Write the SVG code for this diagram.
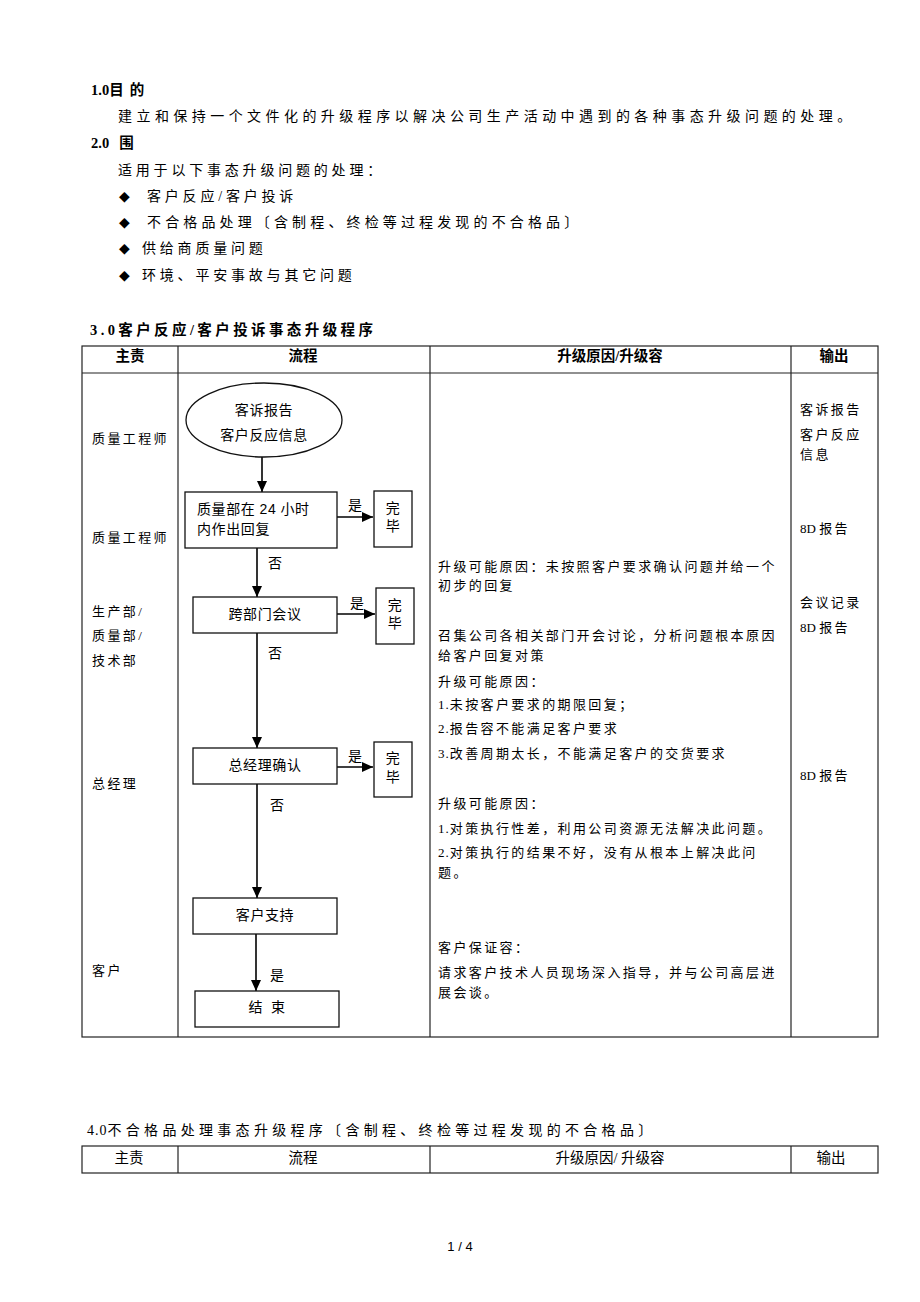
<svg xmlns="http://www.w3.org/2000/svg" width="920" height="1302" viewBox="0 0 920 1302">
<style>
text{font-family:"Liberation Serif","Noto Sans CJK SC",serif;fill:#000}
.h{font-size:14.5px;font-weight:bold}
.p{font-size:14px;letter-spacing:3.8px}
.th{font-size:14.5px;font-weight:bold;text-anchor:middle}
.c{font-size:13px;letter-spacing:2.4px}
.fl{font-size:14px;letter-spacing:0.6px}
.mid{text-anchor:middle}
.tight{letter-spacing:0}
.num{letter-spacing:1px}
.grid{stroke:#222;stroke-width:1.2;fill:none}
.box{fill:#fff;stroke:#111;stroke-width:1.3}
.edge{stroke:#000;stroke-width:1.6;fill:none;marker-end:url(#ah)}
.lbl{font-size:14px}
.dia{font-size:14px;font-family:"DejaVu Sans",sans-serif}
</style>
<defs>
<marker id="ah" markerUnits="userSpaceOnUse" markerWidth="11" markerHeight="10" refX="11" refY="5" orient="auto">
<path d="M0,0 L11,5 L0,10 z" fill="#000"/>
</marker>
</defs>
<rect width="920" height="1302" fill="#fff"/>

<g id="intro">
<text class="h" x="91" y="95">1.0目<tspan dx="6">的</tspan></text>
<text class="p" x="118" y="121" textLength="737" lengthAdjust="spacing">建立和保持一个文件化的升级程序以解决公司生产活动中遇到的各种事态升级问题的处理。</text>
<text class="h" x="91" y="148">2.0<tspan dx="10">围</tspan></text>
<text class="p" x="118" y="175">适用于以下事态升级问题的处理：</text>
<text class="dia" x="119" y="201">◆</text>
<text class="p" x="147" y="201">客户反应/客户投诉</text>
<text class="dia" x="119" y="227">◆</text>
<text class="p" x="147" y="227" textLength="435" lengthAdjust="spacing">不合格品处理〔含制程、终检等过程发现的不合格品〕</text>
<text class="dia" x="119" y="253">◆</text>
<text class="p" x="142" y="253">供给商质量问题</text>
<text class="dia" x="119" y="280">◆</text>
<text class="p" x="142" y="280">环境、平安事故与其它问题</text>
</g>

<g id="table1">
<text class="h" x="90" y="335" style="letter-spacing:3.4px">3.0客户反应/客户投诉事态升级程序</text>
<rect class="grid" x="82" y="346" width="796" height="691"/>
<line class="grid" x1="82" y1="373" x2="878" y2="373"/>
<line class="grid" x1="178" y1="346" x2="178" y2="1037"/>
<line class="grid" x1="430" y1="346" x2="430" y2="1037"/>
<line class="grid" x1="791" y1="346" x2="791" y2="1037"/>
<text class="th" x="130" y="361">主责</text>
<text class="th" x="303" y="361">流程</text>
<text class="th" x="610" y="361">升级原因/升级容</text>
<text class="th" x="834" y="361">输出</text>
</g>

<g id="responsible">
<text class="c" x="92" y="443">质量工程师</text>
<text class="c" x="92" y="542">质量工程师</text>
<text class="c" x="92" y="616">生产部/</text>
<text class="c" x="92" y="640">质量部/</text>
<text class="c" x="92" y="665">技术部</text>
<text class="c" x="92" y="788">总经理</text>
<text class="c" x="92" y="975">客户</text>
</g>

<g id="reasons">
<text class="c" x="438" y="571">升级可能原因：未按照客户要求确认问题并给一个</text>
<text class="c" x="438" y="590">初步的回复</text>
<text class="c" x="438" y="640">召集公司各相关部门开会讨论，分析问题根本原因</text>
<text class="c" x="438" y="660">给客户回复对策</text>
<text class="c" x="438" y="686">升级可能原因：</text>
<text class="c" x="438" y="709"><tspan class="num">1.</tspan>未按客户要求的期限回复；</text>
<text class="c" x="438" y="733"><tspan class="num">2.</tspan>报告容不能满足客户要求</text>
<text class="c" x="438" y="758"><tspan class="num">3.</tspan>改善周期太长，不能满足客户的交货要求</text>
<text class="c" x="438" y="808">升级可能原因：</text>
<text class="c" x="438" y="833"><tspan class="num">1.</tspan>对策执行性差，利用公司资源无法解决此问题。</text>
<text class="c" x="438" y="857"><tspan class="num">2.</tspan>对策执行的结果不好，没有从根本上解决此问</text>
<text class="c" x="438" y="877">题。</text>
<text class="c" x="438" y="952">客户保证容：</text>
<text class="c" x="438" y="977">请求客户技术人员现场深入指导，并与公司高层进</text>
<text class="c" x="438" y="997">展会谈。</text>
</g>

<g id="outputs">
<text class="c" x="800" y="414">客诉报告</text>
<text class="c" x="800" y="439">客户反应</text>
<text class="c" x="800" y="459">信息</text>
<text class="c" x="800" y="533"><tspan class="tight">8D </tspan>报告</text>
<text class="c" x="800" y="607">会议记录</text>
<text class="c" x="800" y="632"><tspan class="tight">8D </tspan>报告</text>
<text class="c" x="800" y="780"><tspan class="tight">8D </tspan>报告</text>
</g>

<g id="connectors">
<line class="edge" x1="262" y1="457" x2="262" y2="492"/>
<line class="edge" x1="337" y1="517" x2="373" y2="517"/>
<text class="lbl" x="348" y="510">是</text>
<line class="edge" x1="257" y1="548" x2="257" y2="597"/>
<text class="lbl" x="268" y="568">否</text>
<line class="edge" x1="337" y1="614" x2="375" y2="614"/>
<text class="lbl" x="350" y="608">是</text>
<line class="edge" x1="257" y1="633" x2="257" y2="748"/>
<text class="lbl" x="268" y="658">否</text>
<line class="edge" x1="337" y1="767" x2="373" y2="767"/>
<text class="lbl" x="348" y="761">是</text>
<line class="edge" x1="257" y1="784" x2="257" y2="898"/>
<text class="lbl" x="270" y="810">否</text>
<line class="edge" x1="256" y1="934" x2="256" y2="991"/>
<text class="lbl" x="270" y="980">是</text>
</g>

<g id="n-start">
<ellipse class="box" cx="264" cy="420" rx="78" ry="37"/>
<text class="fl mid" x="264" y="415">客诉报告</text>
<text class="fl mid" x="264" y="440">客户反应信息</text>
</g>
<g id="n-reply24">
<rect class="box" x="185" y="492" width="152" height="56"/>
<text class="fl" x="197" y="514">质量部在 <tspan style="font-family:'Liberation Sans',sans-serif">24</tspan> 小时</text>
<text class="fl" x="197" y="534">内作出回复</text>
</g>
<g id="n-done1">
<rect class="box" x="374" y="491" width="38" height="56"/>
<text class="fl mid" x="393" y="513">完</text>
<text class="fl mid" x="393" y="531">毕</text>
</g>
<g id="n-meeting">
<rect class="box" x="193" y="597" width="144" height="36"/>
<text class="fl mid" x="265" y="619">跨部门会议</text>
</g>
<g id="n-done2">
<rect class="box" x="376" y="588" width="38" height="56"/>
<text class="fl mid" x="395" y="610">完</text>
<text class="fl mid" x="395" y="628">毕</text>
</g>
<g id="n-gm">
<rect class="box" x="193" y="748" width="144" height="36"/>
<text class="fl mid" x="265" y="770">总经理确认</text>
</g>
<g id="n-done3">
<rect class="box" x="374" y="742" width="38" height="55"/>
<text class="fl mid" x="393" y="763">完</text>
<text class="fl mid" x="393" y="782">毕</text>
</g>
<g id="n-support">
<rect class="box" x="193" y="898" width="144" height="36"/>
<text class="fl mid" x="265" y="920">客户支持</text>
</g>
<g id="n-end">
<rect class="box" x="195" y="991" width="144" height="36"/>
<text class="fl mid" x="267" y="1012">结<tspan dx="8">束</tspan></text>
</g>

<g id="table2">
<text x="87" y="1135" style="font-size:14px;letter-spacing:4.3px"><tspan class="num">4.0</tspan>不合格品处理事态升级程序〔含制程、终检等过程发现的不合格品〕</text>
<rect class="grid" x="82" y="1146" width="796" height="27"/>
<line class="grid" x1="178" y1="1146" x2="178" y2="1173"/>
<line class="grid" x1="430" y1="1146" x2="430" y2="1173"/>
<line class="grid" x1="791" y1="1146" x2="791" y2="1173"/>
<text class="th" x="129" y="1163" style="font-weight:normal">主责</text>
<text class="th" x="303" y="1163" style="font-weight:normal">流程</text>
<text class="th" x="610" y="1163" style="font-weight:normal">升级原因/ 升级容</text>
<text class="th" x="831" y="1163" style="font-weight:normal">输出</text>
</g>

<text x="460" y="1251" style="font-family:'Liberation Sans',sans-serif;font-size:13px;text-anchor:middle">1 / 4</text>
</svg>
